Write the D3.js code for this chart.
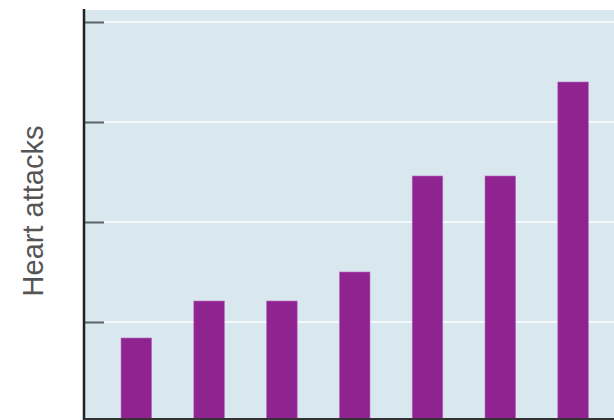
<!DOCTYPE html>
<html>
<head>
<meta charset="utf-8">
<script src="https://cdn.jsdelivr.net/npm/d3@7"></script>
<style>
  body { margin: 0; background: #fff; }
  svg { display: block; }
</style>
</head>
<body>
<svg id="chart"></svg>
<script>
// bar data (no x labels are shown)
const categories = ["1", "2", "3", "4", "5", "6", "7"];
const values = [0.84, 1.21, 1.21, 1.50, 2.46, 2.46, 3.40];
const yTicks = [1, 2, 3, 4];
const yLabel = "Heart attacks";

function drawChart() {
    const width = 614;
    const height = 420;

    const svg = d3.select("#chart")
        .attr("width", width)
        .attr("height", height);

    const axisX = 84;
    const panelTop = 10;
    const baseY = 418;

// scales
    const x = d3.scaleBand()
        .domain(categories)
        .range([78.8, 630.6])
        .paddingInner(0.58)
        .paddingOuter(0.58);

    const y = d3.scaleLinear()
        .domain([0, 4])
        .range([422, 22]);

// background panel
    svg.append("rect")
        .attr("x", axisX + 1)
        .attr("y", panelTop)
        .attr("width", width - axisX)
        .attr("height", height - panelTop)
        .attr("fill", "#d9e7ee");

// white grid lines
    svg.selectAll(".grid")
        .data(yTicks)
        .enter().append("line")
        .attr("class", "grid")
        .attr("x1", axisX + 20)
        .attr("x2", width)
        .attr("y1", d => y(d))
        .attr("y2", d => y(d))
        .attr("stroke", "#f4f9fb")
        .attr("stroke-width", 2);

// bars
    svg.selectAll(".bar")
        .data(values)
        .enter().append("rect")
        .attr("class", "bar")
        .attr("x", (d, i) => x(categories[i]))
        .attr("y", d => y(d))
        .attr("width", x.bandwidth())
        .attr("height", d => y(0) - y(d))
        .attr("fill", "#8f2490")
        .attr("stroke", "#b76cc0")
        .attr("stroke-width", 0.6);

// y axis, ticks pointing inward, no labels
    const yAxis = d3.axisRight(y)
        .tickValues(yTicks)
        .tickSize(20)
        .tickFormat("");

    const gy = svg.append("g")
        .attr("transform", `translate(${axisX},0)`)
        .call(yAxis);
    gy.select(".domain").remove();
    gy.selectAll(".tick line")
        .attr("stroke", "#5b6468")
        .attr("stroke-width", 2);

    svg.append("line")
        .attr("x1", axisX)
        .attr("x2", axisX)
        .attr("y1", 9)
        .attr("y2", height)
        .attr("stroke", "#222")
        .attr("stroke-width", 2.5);

// x axis line at the bottom
    svg.append("line")
        .attr("x1", axisX)
        .attr("x2", width)
        .attr("y1", baseY + 1)
        .attr("y2", baseY + 1)
        .attr("stroke", "#333")
        .attr("stroke-width", 2);

// y label
    svg.append("text")
        .attr("transform", `translate(43,211) rotate(-90)`)
        .attr("text-anchor", "middle")
        .attr("fill", "#555")
        .style("font-family", "Liberation Sans, Arial, sans-serif")
        .style("font-size", "29px")
        .text(yLabel);
}

drawChart();
</script>
</body>
</html>
